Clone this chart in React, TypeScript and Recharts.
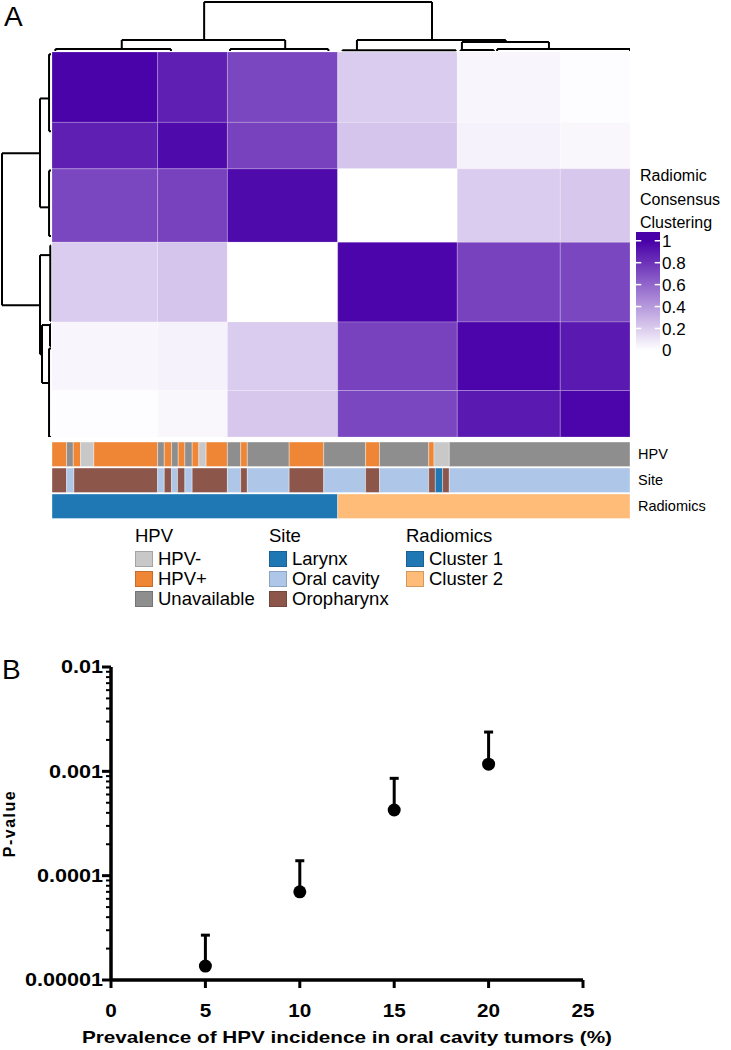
import React from 'react';
import {
  ComposedChart,
  ScatterChart,
  Scatter,
  XAxis,
  YAxis,
  ReferenceArea,
  ReferenceLine,
  ErrorBar,
  Label,
} from 'recharts';

const FONT = '"Liberation Sans", Arial, Helvetica, sans-serif';

// ---------------- Panel A data ----------------
const sampleCount = 87;
// sub-cluster boundaries (sample index, same order for rows and columns)
const clusterEdges = [0, 15.9, 26.4, 43, 61, 76.5, 87];
// consensus values between sub-clusters (symmetric)
const consensusRow1 = [0.99, 0.88, 0.72, 0.2, 0.04, 0.01];
const consensusRow2 = [0.88, 0.96, 0.74, 0.23, 0.05, 0.03];
const consensusRow3 = [0.72, 0.74, 0.96, 0.0, 0.2, 0.22];
const consensusRow4 = [0.2, 0.23, 0.0, 0.98, 0.74, 0.72];
const consensusRow5 = [0.04, 0.05, 0.2, 0.74, 0.98, 0.9];
const consensusRow6 = [0.01, 0.03, 0.22, 0.72, 0.9, 0.98];
const consensus = [consensusRow1, consensusRow2, consensusRow3, consensusRow4, consensusRow5, consensusRow6];

// dendrogram links (sample positions and merge heights, 0..1)
const linkLeft = [22.9, 10.5, 45.9, 61.7, 0.5, 26.8, 43.7, 61.5, 67.0];
const linkRight = [57.2, 35.1, 68.3, 74.8, 17.9, 41.6, 60.8, 66.5, 87.0];
const linkHeight = [1.0, 0.224, 0.224, 0.184, 0.04, 0.04, 0.015, 0.02, 0.04];
const linkLeftChild = [0.224, 0.04, 0.015, 0.02, 0, 0, 0, 0, 0];
const linkRightChild = [0.224, 0.04, 0.184, 0.04, 0, 0, 0, 0, 0];

// annotation tracks
const hpvBreaks = [0, 2.2, 3.2, 4.3, 6.3, 15.9, 16.9, 18.0, 19.0, 20.0, 21.1, 22.1, 23.2, 26.4, 28.4, 29.4, 35.7, 40.9, 47.2, 49.3, 56.7, 57.5, 59.8, 87];
const hpvStatus = ['HPV+', 'Unavailable', 'HPV+', 'HPV-', 'HPV+', 'Unavailable', 'HPV+', 'Unavailable', 'HPV+', 'Unavailable', 'HPV+', 'HPV-', 'HPV+', 'Unavailable', 'HPV+', 'Unavailable', 'HPV+', 'Unavailable', 'HPV+', 'Unavailable', 'HPV+', 'HPV-', 'Unavailable'];
const siteBreaks = [0, 2.2, 3.3, 15.9, 16.9, 18.0, 18.9, 20.0, 21.1, 26.4, 28.4, 29.4, 35.7, 40.9, 47.2, 49.3, 56.7, 57.7, 58.8, 59.8, 87];
const siteType = ['Oropharynx', 'Oral cavity', 'Oropharynx', 'Oral cavity', 'Oropharynx', 'Oral cavity', 'Oropharynx', 'Oral cavity', 'Oropharynx', 'Oral cavity', 'Oropharynx', 'Oral cavity', 'Oropharynx', 'Oral cavity', 'Oropharynx', 'Oral cavity', 'Oropharynx', 'Larynx', 'Oropharynx', 'Oral cavity'];
const radBreaks = [0, 43, 87];
const radCluster = ['Cluster 1', 'Cluster 2'];
const trackNames = ['HPV', 'Site', 'Radiomics'];

const hpvLevels = ['HPV-', 'HPV+', 'Unavailable'];
const hpvColors = ['#C8C8C8', '#EF8636', '#8E8E8E'];
const siteLevels = ['Larynx', 'Oral cavity', 'Oropharynx'];
const siteColors = ['#1F77B4', '#AEC7E8', '#8C564B'];
const radLevels = ['Cluster 1', 'Cluster 2'];
const radColors = ['#1F77B4', '#FFBB78'];

const colorbarTicks = [0, 0.2, 0.4, 0.6, 0.8, 1];

// ---------------- Panel B data ----------------
const prevalence = [5, 10, 15, 20];
const pValue = [1.36e-5, 7.0e-5, 4.26e-4, 1.17e-3];
const pUpper = [2.69e-5, 1.39e-4, 8.57e-4, 2.38e-3];
const xTicks = [0, 5, 10, 15, 20, 25];
const yMajor = [1e-5, 1e-4, 1e-3, 1e-2];
const yMajorLabels = ['0.00001', '0.0001', '0.001', '0.01'];

const Y_AXIS_W = 111;

const LOW = [255, 255, 255];
const HIGH = [72, 0, 168];
function purple(v: number) {
  const c = LOW.map((l, i) => Math.round(l + (HIGH[i] - l) * v));
  return `rgb(${c[0]},${c[1]},${c[2]})`;
}
const DARK = purple(1);

const NOM = { top: 0, right: 0, bottom: 0, left: 0 };
const Nothing = () => <g />;

function Anchor({ pts }: any) {
  return <Scatter data={pts} dataKey="y" isAnimationActive={false} shape={Nothing} legendType="none" />;
}

function Heatmap() {
  const cells: any[] = [];
  for (let i = 0; i < consensus.length; i++) {
    for (let j = 0; j < consensus[i].length; j++) {
      cells.push(
        <ReferenceArea
          key={`c${i}-${j}`}
          x1={clusterEdges[j]}
          x2={clusterEdges[j + 1]}
          y1={clusterEdges[i]}
          y2={clusterEdges[i + 1]}
          fill={purple(consensus[i][j])}
          fillOpacity={1}
          stroke="#ffffff"
          strokeOpacity={0.35}
          strokeWidth={0.6}
          ifOverflow="visible"
        />
      );
    }
  }
  return (
    <ComposedChart width={578} height={385} margin={NOM}>
      <XAxis type="number" dataKey="x" domain={[0, sampleCount]} allowDataOverflow hide />
      <YAxis type="number" dataKey="y" domain={[0, sampleCount]} allowDataOverflow reversed hide />
      <Anchor pts={[{ x: 0, y: 0 }, { x: sampleCount, y: sampleCount }]} />
      {cells}
    </ComposedChart>
  );
}

function seg(key: string, a: any, b: any) {
  return (
    <ReferenceLine
      key={key}
      segment={[a, b]}
      stroke="#000"
      strokeWidth={2}
      ifOverflow="visible"
    />
  );
}

function TopDendrogram() {
  const lines: any[] = [];
  linkLeft.forEach((l, i) => {
    const r = linkRight[i];
    const h = linkHeight[i];
    lines.push(seg(`h${i}`, { x: l, y: h }, { x: r, y: h }));
    lines.push(seg(`l${i}`, { x: l, y: linkLeftChild[i] }, { x: l, y: h }));
    lines.push(seg(`r${i}`, { x: r, y: linkRightChild[i] }, { x: r, y: h }));
  });
  return (
    <ComposedChart width={578} height={53} margin={{ top: 2, right: 0, bottom: 2, left: 0 }}>
      <XAxis type="number" dataKey="x" domain={[0, sampleCount]} allowDataOverflow hide />
      <YAxis type="number" dataKey="y" domain={[0, 1]} allowDataOverflow hide />
      <Anchor pts={[{ x: 0, y: 0 }, { x: sampleCount, y: 1 }]} />
      {lines}
    </ComposedChart>
  );
}

function LeftDendrogram() {
  const lines: any[] = [];
  linkLeft.forEach((l, i) => {
    const r = linkRight[i];
    const h = linkHeight[i];
    lines.push(seg(`h${i}`, { x: h, y: l }, { x: h, y: r }));
    lines.push(seg(`l${i}`, { x: linkLeftChild[i], y: l }, { x: h, y: l }));
    lines.push(seg(`r${i}`, { x: linkRightChild[i], y: r }, { x: h, y: r }));
  });
  return (
    <ComposedChart width={53} height={385} margin={{ top: 0, right: 2, bottom: 0, left: 2 }}>
      <XAxis type="number" dataKey="x" domain={[0, 1]} allowDataOverflow reversed hide />
      <YAxis type="number" dataKey="y" domain={[0, sampleCount]} allowDataOverflow reversed hide />
      <Anchor pts={[{ x: 0, y: 0 }, { x: 1, y: sampleCount }]} />
      {lines}
    </ComposedChart>
  );
}

function Tracks() {
  const areas: any[] = [];
  const tracks = [
    { breaks: hpvBreaks, vals: hpvStatus, levels: hpvLevels, colors: hpvColors },
    { breaks: siteBreaks, vals: siteType, levels: siteLevels, colors: siteColors },
    { breaks: radBreaks, vals: radCluster, levels: radLevels, colors: radColors },
  ];
  tracks.forEach((t, r) => {
    t.vals.forEach((v, k) => {
      areas.push(
        <ReferenceArea
          key={`t${r}-${k}`}
          x1={t.breaks[k]}
          x2={t.breaks[k + 1]}
          y1={r + 0.04}
          y2={r + 0.98}
          fill={t.colors[t.levels.indexOf(v)]}
          fillOpacity={1}
          stroke="#ffffff"
          strokeOpacity={0.45}
          strokeWidth={0.8}
          ifOverflow="visible"
        />
      );
    });
  });
  return (
    <ComposedChart width={668} height={78} margin={NOM}>
      <XAxis type="number" dataKey="x" domain={[0, sampleCount]} allowDataOverflow hide />
      <YAxis
        type="number"
        dataKey="y"
        orientation="right"
        domain={[0, 3]}
        allowDataOverflow
        reversed
        ticks={[0.5, 1.5, 2.5]}
        interval={0}
        tickFormatter={(v: number) => trackNames[Math.floor(v)]}
        axisLine={false}
        tickLine={false}
        width={90}
        tick={{ fill: '#000', fontSize: 14.5, fontFamily: FONT }}
      />
      <Anchor pts={[{ x: 0, y: 0 }, { x: sampleCount, y: 3 }]} />
      {areas}
    </ComposedChart>
  );
}

function Colorbar() {
  const marks: any[] = [];
  colorbarTicks.forEach((t, i) => {
    marks.push(
      <ReferenceLine key={`a${i}`} segment={[{ x: 0, y: t }, { x: 0.22, y: t }]} stroke="#fff" strokeWidth={1.5} ifOverflow="visible" />
    );
    marks.push(
      <ReferenceLine key={`b${i}`} segment={[{ x: 0.78, y: t }, { x: 1, y: t }]} stroke="#fff" strokeWidth={1.5} ifOverflow="visible" />
    );
  });
  return (
    <ComposedChart width={70} height={145} margin={{ top: 10, right: 0, bottom: 10, left: 0 }}>
      <defs>
        <linearGradient id="cbarGrad" x1="0" y1="1" x2="0" y2="0">
          <stop offset="0" stopColor="#ffffff" />
          <stop offset="0.053" stopColor="#ffffff" />
          <stop offset="0.93" stopColor={DARK} />
          <stop offset="1" stopColor={DARK} />
        </linearGradient>
      </defs>
      <XAxis type="number" dataKey="x" domain={[0, 1]} allowDataOverflow hide />
      <YAxis
        type="number"
        dataKey="y"
        orientation="right"
        domain={[-0.06, 1.08]}
        allowDataOverflow
        ticks={colorbarTicks}
        axisLine={false}
        tickLine={false}
        tickSize={0}
        tickMargin={2}
        width={46}
        interval={0}
        tick={{ fill: '#000', fontSize: 17, fontFamily: FONT }}
      />
      <Anchor pts={[{ x: 0, y: -0.06 }, { x: 1, y: 1.08 }]} />
      <ReferenceArea x1={0} x2={1} y1={-0.06} y2={1.08} fill="url(#cbarGrad)" fillOpacity={1} stroke="none" ifOverflow="visible" />
      {marks}
    </ComposedChart>
  );
}

function LegendBlock({ left, title, levels, colors }: any) {
  return (
    <div style={{ position: 'absolute', left, top: 0 }}>
      <div style={{ position: 'absolute', left: 0, top: 527, fontSize: 18.5, lineHeight: '18.5px', whiteSpace: 'nowrap' }}>{title}</div>
      {levels.map((lv: string, i: number) => (
        <div key={lv}>
          <div
            style={{
              position: 'absolute',
              left: 0,
              top: 551 + i * 20,
              width: 18,
              height: 16,
              boxSizing: 'border-box',
              background: colors[i],
              border: '1px solid rgba(0,0,0,0.18)',
            }}
          />
          <div style={{ position: 'absolute', left: 23, top: 550 + i * 20, fontSize: 18.5, lineHeight: '18.5px', whiteSpace: 'nowrap' }}>{lv}</div>
        </div>
      ))}
    </div>
  );
}

function YTick(props: any) {
  const { y, payload } = props;
  // y-axis line sits at the right edge of the axis band (chart has no left margin)
  const axisX = Y_AXIS_W;
  const idx = yMajor.indexOf(payload.value);
  const major = idx >= 0;
  return (
    <g>
      <line x1={axisX - (major ? 9 : 5)} x2={axisX} y1={y} y2={y} stroke="#000" strokeWidth={major ? 3 : 2} />
      {major && (
        <text
          transform={`translate(${axisX - 8},${y}) scale(1.2,1)`}
          x={0}
          y={0}
          dy="0.36em"
          textAnchor="end"
          fontSize={18}
          fontWeight="bold"
          fontFamily={FONT}
          fill="#000"
        >
          {yMajorLabels[idx]}
        </text>
      )}
    </g>
  );
}

function XTick(props: any) {
  const { x, y, payload } = props;
  return (
    <text
      transform={`translate(${x},${y}) scale(1.15,1)`}
      x={0}
      y={0}
      dy="0.71em"
      textAnchor="middle"
      fontSize={18}
      fontWeight="bold"
      fontFamily={FONT}
      fill="#000"
    >
      {payload.value}
    </text>
  );
}

function PanelB() {
  const data = prevalence.map((x, i) => ({ x, p: pValue[i], err: [0, pUpper[i] - pValue[i]] }));
  const minor: number[] = [];
  for (let d = 0; d < yMajor.length - 1; d++) {
    for (let k = 2; k <= 9; k++) minor.push(yMajor[d] * k);
  }
  const allTicks = [...yMajor, ...minor].sort((a, b) => a - b);
  return (
    <ScatterChart width={731} height={410} margin={{ top: 27, right: 148, bottom: 0, left: 0 }}>
      <XAxis
        type="number"
        dataKey="x"
        domain={[0, 25]}
        ticks={xTicks}
        interval={0}
        height={70}
        tickSize={8}
        tickMargin={16}
        axisLine={{ stroke: '#000', strokeWidth: 3.5 }}
        tickLine={{ stroke: '#000', strokeWidth: 3 }}
        tick={<XTick />}
      >
        <Label
          content={(lp: any) => {
            const vb = lp.viewBox || { x: 111, y: 340, width: 472, height: 70 };
            const cx = vb.x + vb.width / 2;
            const cy = vb.y + vb.height - 7;
            return (
              <text
                x={cx}
                y={cy}
                textAnchor="middle"
                fontSize={17}
                fontWeight="bold"
                fontFamily={FONT}
                fill="#000"
                textLength={530}
                lengthAdjust="spacingAndGlyphs"
              >
                Prevalence of HPV incidence in oral cavity tumors (%)
              </text>
            );
          }}
        />
      </XAxis>
      <YAxis
        type="number"
        dataKey="p"
        scale="log"
        domain={[1e-5, 1e-2]}
        allowDataOverflow
        ticks={allTicks}
        interval={0}
        width={Y_AXIS_W}
        tickSize={8}
        tickMargin={0}
        tickLine={false}
        axisLine={{ stroke: '#000', strokeWidth: 3.5 }}
        tick={<YTick />}
        label={(lp: any) => {
          const vb = lp.viewBox || { x: 0, y: 27, height: 313 };
          const cx = vb.x + 9;
          const cy = vb.y + vb.height / 2;
          return (
            <text
              x={cx}
              y={cy}
              transform={`rotate(-90 ${cx} ${cy})`}
              textAnchor="middle"
              dominantBaseline="central"
              fontSize={16}
              fontWeight="bold"
              letterSpacing={1.5}
              fontFamily={FONT}
              fill="#000"
            >
              P-value
            </text>
          );
        }}
      />
      <Scatter
        data={data}
        isAnimationActive={false}
        shape={(p: any) => <circle cx={p.cx} cy={p.cy} r={6.5} fill="#000" />}
      >
        <ErrorBar dataKey="err" direction="y" width={4.5} stroke="#000" strokeWidth={3} isAnimationActive={false} />
      </Scatter>
    </ScatterChart>
  );
}

export default function App() {
  return (
    <div style={{ position: 'absolute', left: 0, top: 0, width: 731, height: 1050, background: '#fff', fontFamily: FONT, color: '#000', overflow: 'hidden' }}>
      <div style={{ position: 'absolute', left: 4, top: 3, fontSize: 28, lineHeight: '28px' }}>A</div>
      <div style={{ position: 'absolute', left: 52, top: 0 }}>
        <TopDendrogram />
      </div>
      <div style={{ position: 'absolute', left: 0, top: 52 }}>
        <LeftDendrogram />
      </div>
      <div style={{ position: 'absolute', left: 52, top: 52 }}>
        <Heatmap />
      </div>
      <div style={{ position: 'absolute', left: 52, top: 441 }}>
        <Tracks />
      </div>
      <div style={{ position: 'absolute', left: 640, top: 164, fontSize: 16, lineHeight: '23.5px' }}>
        <div>Radiomic</div>
        <div>Consensus</div>
        <div>Clustering</div>
      </div>
      <div style={{ position: 'absolute', left: 636, top: 222 }}>
        <Colorbar />
      </div>
      <LegendBlock left={135} title="HPV" levels={hpvLevels} colors={hpvColors} />
      <LegendBlock left={269} title="Site" levels={siteLevels} colors={siteColors} />
      <LegendBlock left={406} title="Radiomics" levels={radLevels} colors={radColors} />
      <div style={{ position: 'absolute', left: 2, top: 656, fontSize: 28, lineHeight: '28px' }}>B</div>
      <div style={{ position: 'absolute', left: 0, top: 640 }}>
        <PanelB />
      </div>
    </div>
  );
}
